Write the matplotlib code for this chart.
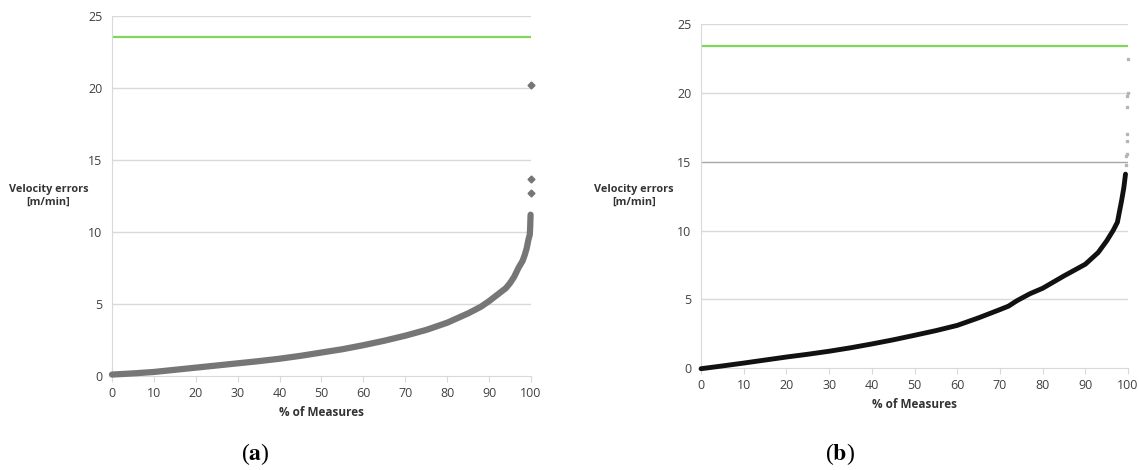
import matplotlib
matplotlib.use('Agg')
from matplotlib import pyplot as plt

plt.rcParams['font.family'] = ['Open Sans', 'DejaVu Sans']
plt.rcParams['mathtext.fontset'] = 'stix'

# (a) sorted velocity errors
pct_a = [0, 5, 10, 15, 20, 25, 30, 35, 40, 45, 50, 55, 60, 65, 70, 75, 80, 85,
         88, 90, 92, 94, 95, 96, 97, 98, 98.5, 99, 99.3, 99.5, 99.7, 99.8, 99.85, 99.9]
err_a = [0.1, 0.18, 0.28, 0.43, 0.58, 0.73, 0.88, 1.03, 1.2, 1.4, 1.63, 1.86, 2.14, 2.45,
         2.8, 3.2, 3.7, 4.35, 4.8, 5.2, 5.65, 6.1, 6.45, 6.9, 7.5, 8.0, 8.4, 8.9, 9.35,
         9.6, 9.8, 10.3, 10.8, 11.2]
out_pct_a = [100, 100, 100]
out_err_a = [12.7, 13.7, 20.2]
limit_a = 23.56

# (b)
pct_b = [0, 5, 10, 15, 20, 25, 30, 35, 40, 45, 50, 55, 60, 65, 70, 72, 74, 77, 80, 85,
         90, 93, 95, 96.5, 97.5, 98, 98.5, 99, 99.4]
err_b = [-0.05, 0.15, 0.36, 0.58, 0.8, 1.0, 1.22, 1.47, 1.75, 2.05, 2.38, 2.72, 3.1, 3.65,
         4.25, 4.5, 4.9, 5.4, 5.8, 6.7, 7.55, 8.4, 9.25, 10.0, 10.6, 11.4, 12.2, 13.1, 14.1]
out_pct_b = [99.6, 99.6, 99.7, 99.7, 99.75, 99.8, 99.85, 99.9, 100]
out_err_b = [14.8, 15.4, 15.6, 16.5, 17.0, 19.0, 19.8, 20.0, 22.5]
limit_b = 23.43

x_ticks = list(range(0, 101, 10))
y_ticks = list(range(0, 26, 5))

fig = plt.figure(figsize=(11.39, 4.70), dpi=100)


def style_axes(ax, dark_line=None):
    ax.set_xlim(0, 100)
    ax.set_ylim(0, 25)
    ax.set_xticks(x_ticks)
    ax.set_yticks(y_ticks)
    for y in y_ticks[1:]:
        col = '#a6a6a6' if y == dark_line else '#d9d9d9'
        ax.axhline(y, color=col, lw=1.0, zorder=0)
    for s in ['top', 'right']:
        ax.spines[s].set_visible(False)
    ax.spines['left'].set_color('#d9d9d9')
    ax.spines['bottom'].set_color('#d9d9d9')
    ax.tick_params(axis='y', length=0, pad=7, labelsize=9, labelcolor='#404040')
    ax.tick_params(axis='x', length=4, color='#d9d9d9', labelsize=9, labelcolor='#404040', pad=4)
    ax.set_xlabel('% of Measures', fontsize=8.5, fontweight='bold', color='#333333', labelpad=4)


ax1 = fig.add_axes([0.0983, 0.2, 0.3679, 0.766])
style_axes(ax1)
ax1.axhline(limit_a, color='#7fd65a', lw=1.6, zorder=2)
ax1.plot(pct_a, err_a, color='#767676', lw=4.5, solid_capstyle='round', zorder=3, clip_on=False)
ax1.plot(out_pct_a, out_err_a, 'D', color='#767676', ms=3.5, zorder=3, clip_on=False)

ax2 = fig.add_axes([0.6155, 0.217, 0.3749, 0.7313])
style_axes(ax2, dark_line=15)
ax2.axhline(limit_b, color='#7fd65a', lw=1.6, zorder=2)
ax2.plot(pct_b, err_b, color='#111111', lw=3.5, solid_capstyle='round', zorder=3, clip_on=False)
ax2.plot(out_pct_b, out_err_b, 's', color='#b5b5b5', ms=1.5, zorder=3, clip_on=False)

for x in [0.0426, 0.5566]:
    fig.text(x, 0.583, 'Velocity errors\n[m/min]', fontsize=7.8, fontweight='bold',
             color='#333333', ha='center', va='center', linespacing=1.3)

fig.text(0.224, 0.035, r'($\mathbf{a}$)', fontsize=17, family='Liberation Serif',
         ha='center', va='center')
fig.text(0.737, 0.035, r'($\mathbf{b}$)', fontsize=17, family='Liberation Serif',
         ha='center', va='center')

fig.savefig('out.png', dpi=100)
